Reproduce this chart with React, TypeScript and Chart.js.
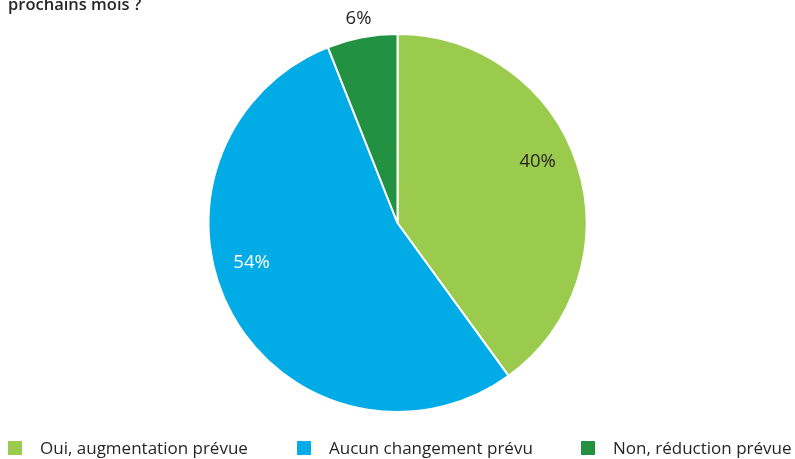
import React, { useEffect, useRef } from "react";
import { Chart, registerables } from "chart.js";

Chart.register(...registerables);

const titleText = "prochains mois ?";
const categories = ["Oui, augmentation prévue", "Aucun changement prévu", "Non, réduction prévue"];
const values = [40, 54, 6];
const valueLabels = ["40%", "54%", "6%"];
const colors = ["#9BCB4C", "#00ABE6", "#229142"];
const labelColors = ["#262626", "#FFFFFF", "#262626"];
// position of each label within its slice: fraction of slice angle, fraction of radius
const labelAngleFrac = [0.46, 0.57, 0.5];
const labelRadiusFrac = [0.81, 0.8, 1.1];
// legend item left offsets (layout)
const legendLeft = [8, 297, 581];

const FONT = "'Open Sans', 'Noto Sans', sans-serif";

const labelPlugin = {
  id: "sliceLabels",
  afterDatasetsDraw(chart: any) {
    const ctx = chart.ctx;
    const meta = chart.getDatasetMeta(0);
    ctx.save();
    ctx.font = `18.5px ${FONT}`;
    ctx.textAlign = "center";
    ctx.textBaseline = "middle";
    meta.data.forEach((arc: any, i: number) => {
      const { x, y, startAngle, endAngle, outerRadius } = arc.getProps(
        ["x", "y", "startAngle", "endAngle", "outerRadius"],
        true
      );
      const a = startAngle + (endAngle - startAngle) * labelAngleFrac[i];
      const r = outerRadius * labelRadiusFrac[i];
      ctx.fillStyle = labelColors[i];
      ctx.fillText(valueLabels[i], x + Math.cos(a) * r, y + Math.sin(a) * r);
    });
    // partial title at the top-left
    ctx.font = `600 16.5px ${FONT}`;
    ctx.textAlign = "left";
    ctx.textBaseline = "alphabetic";
    ctx.fillStyle = "#262626";
    ctx.fillText(titleText, 8, 10);
    ctx.restore();
  },
};

export default function App() {
  const ref = useRef<HTMLCanvasElement | null>(null);
  useEffect(() => {
    if (!ref.current) return;
    const chart = new Chart(ref.current, {
      type: "pie",
      data: {
        labels: categories,
        datasets: [
          {
            data: values,
            backgroundColor: colors,
            borderColor: "#ffffff",
            borderWidth: 2,
          },
        ],
      },
      options: {
        animation: false,
        responsive: false,
        layout: { padding: { top: 33, bottom: 46, left: 0, right: 0 } },
        plugins: {
          legend: { display: false },
          tooltip: { enabled: false },
        },
      },
      plugins: [labelPlugin],
    });
    return () => chart.destroy();
  }, []);

  return (
    <div
      style={{
        position: "fixed",
        left: 0,
        top: 0,
        width: 795,
        height: 459,
        background: "#fff",
        overflow: "hidden",
        fontFamily: FONT,
      }}
    >
      <canvas ref={ref} width={795} height={459} style={{ position: "absolute", left: 0, top: 0 }} />
      {categories.map((c, i) => (
        <div
          key={c}
          style={{
            position: "absolute",
            left: legendLeft[i],
            top: 436,
            display: "flex",
            alignItems: "center",
            fontSize: 17,
            lineHeight: "24px",
            color: "#262626",
            whiteSpace: "nowrap",
          }}
        >
          <span
            style={{
              display: "inline-block",
              width: 14,
              height: 14,
              background: colors[i],
              marginRight: 18,
            }}
          />
          <span>{c}</span>
        </div>
      ))}
    </div>
  );
}
